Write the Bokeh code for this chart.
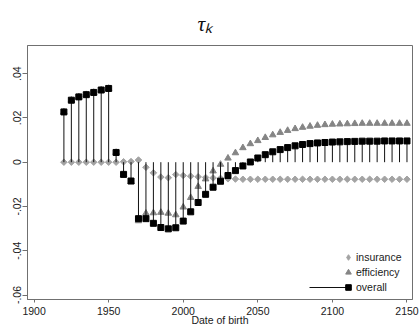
import numpy as np
from bokeh.plotting import figure
from bokeh.models import (FixedTicker, Range1d, Legend, LegendItem, Title,
                          ColumnDataSource, CDSView, IndexFilter)
from bokeh.embed import file_html
from bokeh.resources import INLINE

# ---------------- data ----------------
years = list(range(1920, 2151, 5))

overall = [0.0227, 0.0280, 0.0295, 0.0305, 0.0315, 0.0326, 0.0333,
           0.0044, -0.0055, -0.0085, -0.0255, -0.0255, -0.0276, -0.0295,
           -0.0301, -0.0296, -0.0266, -0.0224, -0.0182, -0.0145, -0.0113,
           -0.0086, -0.0060, -0.0038, -0.0017, 0.0001, 0.0019, 0.0034,
           0.0047, 0.0057, 0.0066, 0.0074, 0.0080, 0.0084, 0.0087, 0.0089,
           0.0091, 0.0092, 0.0093, 0.0094, 0.0095, 0.0095, 0.0095, 0.0096,
           0.0096, 0.0096, 0.0096]

insurance = [0.0, 0.0, 0.0, 0.0, 0.0, 0.0, 0.0,
             0.0, 0.0002, 0.0003, 0.0010, -0.0023, -0.0048, -0.0067,
             -0.0070, -0.0056, -0.0060, -0.0063, -0.0066, -0.0069, -0.0071,
             -0.0073, -0.0075, -0.0076, -0.0077, -0.0077, -0.0077, -0.0077,
             -0.0077, -0.0077, -0.0077, -0.0077, -0.0077, -0.0077, -0.0077,
             -0.0077, -0.0077, -0.0077, -0.0077, -0.0077, -0.0077, -0.0077,
             -0.0077, -0.0077, -0.0077, -0.0077, -0.0077]

efficiency = [0.0227, 0.0280, 0.0295, 0.0305, 0.0315, 0.0326, 0.0333,
              0.0044, -0.0057, -0.0088, -0.0265, -0.0231, -0.0229, -0.0227,
              -0.0231, -0.0238, -0.0203, -0.0160, -0.0110, -0.0076, -0.0040,
              -0.0010, 0.0018, 0.0042, 0.0065, 0.0083, 0.0097, 0.0111,
              0.0123, 0.0134, 0.0143, 0.0151, 0.0157, 0.0162, 0.0166, 0.0169,
              0.0171, 0.0172, 0.0173, 0.0174, 0.0175, 0.0175, 0.0175, 0.0175,
              0.0175, 0.0175, 0.0175]

x_ticks = [1900, 1950, 2000, 2050, 2100, 2150]
y_ticks = [-0.06, -0.04, -0.02, 0.0, 0.02, 0.04]
y_tick_labels = ["-.06", "-.04", "-.02", "0", ".02", ".04"]
series_names = ["insurance", "efficiency", "overall"]
title_text = "τₖ"
x_label = "Date of birth"

# ---------------- figure ----------------
src = ColumnDataSource(dict(year=years, ins=insurance, eff=efficiency,
                            ov=overall, base=[0.0] * len(years)))

p = figure(width=419, height=328, output_backend="svg", toolbar_location=None,
           x_range=Range1d(1895.6, 2153.7), y_range=Range1d(-0.0620, 0.0527),
           min_border_left=27, min_border_right=7, min_border_top=43,
           min_border_bottom=27)
p.title = Title(text=title_text, align="left", offset=170, standoff=19,
                text_font="Liberation Serif", text_font_style="italic",
                text_font_size="21.5px", text_color="#111111")
p.background_fill_color = "white"
p.border_fill_color = "white"
p.grid.visible = False
p.outline_line_color = "#707070"
p.outline_line_width = 1

AX = "#707070"
for ax in (p.xaxis[0], p.yaxis[0]):
    ax.axis_line_color = AX
    ax.major_tick_line_color = AX
    ax.minor_tick_line_color = None
    ax.minor_tick_in = 0
    ax.minor_tick_out = 0
    ax.major_tick_in = 0
    ax.major_label_text_font = "Liberation Sans"
    ax.major_label_text_font_size = "10.5px"
    ax.major_label_text_color = "#1a1a1a"

p.xaxis.ticker = FixedTicker(ticks=x_ticks)
p.xaxis.major_tick_out = 3
p.xaxis.major_label_standoff = 4
p.xaxis.axis_label = x_label
p.xaxis.axis_label_standoff = -4
p.xaxis.axis_label_text_font = "Liberation Sans"
p.xaxis.axis_label_text_font_size = "10.5px"
p.xaxis.axis_label_text_font_style = "normal"
p.xaxis.axis_label_text_color = "#1a1a1a"

p.yaxis.ticker = FixedTicker(ticks=y_ticks)
p.yaxis.major_label_overrides = dict(zip(y_ticks, y_tick_labels))
p.yaxis.major_label_orientation = "vertical"
p.yaxis.major_tick_out = 5
p.yaxis.major_label_standoff = 1

INS_C, EFF_C = "#a3a3a3", "#858585"

# ---------------- glyphs ----------------
# legend key for the diamond symbol: one point, hidden under the first marker
r_ins_key = p.scatter("year", "ins", source=src,
                      view=CDSView(filter=IndexFilter([0])), marker="diamond",
                      size=5.5, fill_color=INS_C, line_color=INS_C)
r_ins = p.scatter("year", "ins", source=src, marker="square", angle=np.pi / 4,
                  size=4.6, fill_color=INS_C, line_color=INS_C)
r_eff = p.scatter("year", "eff", source=src, marker="triangle", size=6.5,
                  fill_color=EFF_C, line_color=EFF_C)
r_stem = p.segment(x0="year", y0="base", x1="year", y1="ov", source=src,
                   line_color="#111111", line_width=1)
r_ov = p.scatter("year", "ov", source=src, marker="square", size=6,
                 fill_color="black", line_color="black")

# ---------------- legends ----------------
common = dict(padding=0, margin=0, border_line_color=None,
              background_fill_alpha=0, label_text_font="Liberation Sans",
              label_text_font_size="10.5px", label_text_color="#1a1a1a")
legA = Legend(items=[LegendItem(label=series_names[0], renderers=[r_ins_key]),
                     LegendItem(label=series_names[1], renderers=[r_eff]),
                     LegendItem(label=series_names[2], renderers=[r_ov])],
              location=(314, 5), glyph_width=14, glyph_height=14,
              label_height=14, spacing=1, label_standoff=1, **common)
legB = Legend(items=[LegendItem(label=" ", renderers=[r_stem])],
              location=(282, 5), glyph_width=38, glyph_height=14,
              label_height=14, label_standoff=0, **common)
p.add_layout(legB)
p.add_layout(legA)

open("out.html", "w").write(file_html(p, INLINE))
